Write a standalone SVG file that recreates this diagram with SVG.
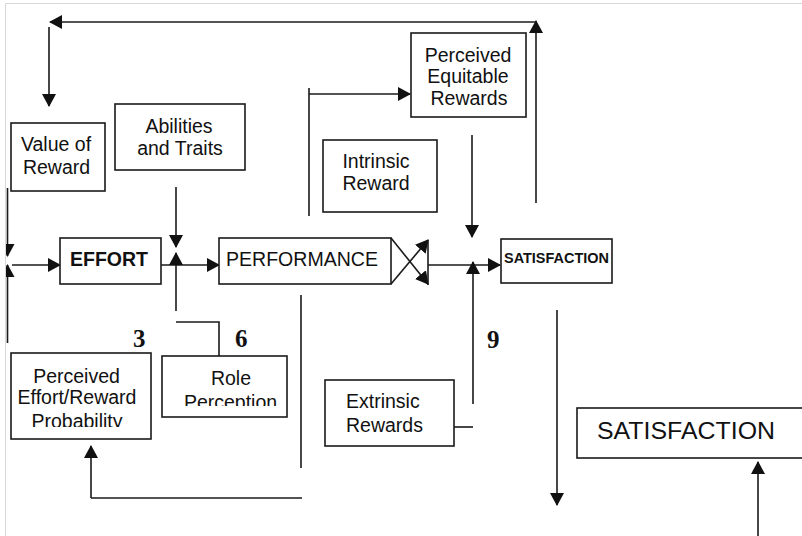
<svg xmlns="http://www.w3.org/2000/svg" width="802" height="536" viewBox="0 0 802 536">
  <style>
    .box { fill: #ffffff; stroke: #1a1a1a; stroke-width: 1.6; }
    .ln { fill: none; stroke: #1a1a1a; stroke-width: 1.6; }
    .arr { fill: none; stroke: #1a1a1a; stroke-width: 1.6; marker-end: url(#head); }
    .t { font-family: "Liberation Sans", Arial, sans-serif; font-size: 19.5px; fill: #111111; }
    .c { text-anchor: middle; }
    .b { font-weight: bold; }
    .num { font-family: "Liberation Serif", "Times New Roman", serif; font-size: 25px; font-weight: bold; fill: #111111; }
  </style>
  <defs>
    <marker id="head" viewBox="0 0 13 14" markerWidth="13" markerHeight="14" refX="12" refY="7" orient="auto" markerUnits="userSpaceOnUse">
      <path d="M0,0 L13,7 L0,14 Z" fill="#111111"/>
    </marker>
    <clipPath id="clipProb"><rect x="11" y="353" width="140" height="74"/></clipPath>
    <clipPath id="clipRole"><rect x="162" y="356" width="125" height="50"/></clipPath>
  </defs>

  <rect x="0" y="0" width="802" height="536" fill="#ffffff"/>

  <!-- connectors -->
  <g id="connectors">
    <!-- top feedback loop -->
    <line class="arr" x1="536" y1="203" x2="536" y2="21"/>
    <line class="arr" x1="537" y1="22" x2="50" y2="22"/>
    <line class="arr" x1="49" y1="27" x2="49" y2="106"/>

    <!-- left side into effort -->
    <line class="arr" x1="7.5" y1="188" x2="7.5" y2="256"/>
    <line class="arr" x1="7.5" y1="343" x2="7.5" y2="265"/>
    <line class="arr" x1="12" y1="265" x2="60" y2="265"/>

    <!-- effort to performance, with abilities and role perception -->
    <line class="arr" x1="161" y1="265" x2="219" y2="265"/>
    <line class="arr" x1="176" y1="187" x2="176" y2="247"/>
    <line class="arr" x1="176" y1="311" x2="176" y2="253"/>
    <polyline class="ln" points="176,322 219,322 219,356"/>

    <!-- performance outputs -->
    <line class="arr" x1="391" y1="238" x2="428" y2="284"/>
    <line class="arr" x1="391" y1="284" x2="428" y2="240"/>
    <line class="ln" x1="428" y1="240" x2="428" y2="285"/>
    <line class="arr" x1="428" y1="265" x2="500" y2="265"/>

    <!-- performance to perceived equitable rewards -->
    <line class="ln" x1="309" y1="88" x2="309" y2="216"/>
    <line class="arr" x1="309" y1="94" x2="410" y2="94"/>
    <line class="arr" x1="472" y1="135" x2="472" y2="237"/>

    <!-- extrinsic rewards up to satisfaction -->
    <polyline class="ln" points="454,427 473,427"/>
    <line class="arr" x1="473" y1="404" x2="473" y2="262"/>

    <!-- performance back to perceived effort/reward probability -->
    <line class="ln" x1="301" y1="295" x2="301" y2="468"/>
    <line class="ln" x1="91" y1="498" x2="302" y2="498"/>
    <line class="arr" x1="91" y1="498" x2="91" y2="446"/>

    <!-- satisfaction arrows on the right -->
    <line class="arr" x1="557" y1="310" x2="557" y2="505"/>
    <line class="arr" x1="758" y1="536" x2="758" y2="462"/>
  </g>

  <g id="value-of-reward">
    <rect class="box" x="11" y="123" width="94" height="68"/>
    <text class="t c" x="56" y="151">Value of</text>
    <text class="t c" x="56.5" y="174">Reward</text>
  </g>

  <g id="abilities-traits">
    <rect class="box" x="115" y="104" width="130" height="66"/>
    <text class="t c" x="179" y="133">Abilities</text>
    <text class="t c" x="180" y="155">and Traits</text>
  </g>

  <g id="effort">
    <rect class="box" x="60" y="238" width="101" height="46"/>
    <text class="t c b" x="109" y="266">EFFORT</text>
  </g>

  <g id="performance">
    <rect class="box" x="219" y="238" width="172" height="46"/>
    <text class="t" x="226" y="266" textLength="152" lengthAdjust="spacingAndGlyphs">PERFORMANCE</text>
  </g>

  <g id="perceived-equitable-rewards">
    <rect class="box" x="411" y="33" width="115" height="84"/>
    <text class="t c" x="468" y="62">Perceived</text>
    <text class="t c" x="468" y="83">Equitable</text>
    <text class="t c" x="469" y="105">Rewards</text>
  </g>

  <g id="intrinsic-reward">
    <rect class="box" x="323" y="140" width="114" height="72"/>
    <text class="t c" x="376" y="168">Intrinsic</text>
    <text class="t c" x="376" y="190">Reward</text>
  </g>

  <g id="satisfaction-small">
    <rect class="box" x="501" y="239" width="111" height="44"/>
    <text class="t b" x="504" y="263" style="font-size:14px" textLength="105" lengthAdjust="spacingAndGlyphs">SATISFACTION</text>
  </g>

  <g id="perceived-effort-reward">
    <rect class="box" x="11" y="353" width="140" height="86"/>
    <g clip-path="url(#clipProb)">
      <text class="t c" x="76.5" y="383">Perceived</text>
      <text class="t c" x="77" y="404">Effort/Reward</text>
      <text class="t c" x="77" y="427.5">Probability</text>
    </g>
  </g>

  <g id="role-perception">
    <rect class="box" x="162" y="356" width="125" height="61"/>
    <g clip-path="url(#clipRole)">
      <text class="t c" x="231" y="385">Role</text>
      <text class="t c" x="230.5" y="408.5">Perception</text>
    </g>
  </g>

  <g id="extrinsic-rewards">
    <rect class="box" x="325" y="380" width="129" height="66"/>
    <text class="t" x="346" y="408">Extrinsic</text>
    <text class="t" x="346" y="432">Rewards</text>
  </g>

  <g id="satisfaction-large">
    <rect class="box" x="577" y="408" width="240" height="50"/>
    <text class="t" x="597" y="439" style="font-size:24px" textLength="178" lengthAdjust="spacingAndGlyphs">SATISFACTION</text>
  </g>

  <g id="labels">
    <text class="num" x="133" y="347">3</text>
    <text class="num" x="235" y="347">6</text>
    <text class="num" x="487" y="348">9</text>
  </g>

  <!-- page frame: white margin with a thin grey edge -->
  <rect x="0" y="0" width="5" height="536" fill="#ffffff"/>
  <rect x="0" y="0" width="802" height="3" fill="#ffffff"/>
  <line x1="5.5" y1="3.5" x2="5.5" y2="536" stroke="#d8d8d8" stroke-width="1"/>
  <line x1="5.5" y1="3.5" x2="802" y2="3.5" stroke="#d8d8d8" stroke-width="1"/>
</svg>
